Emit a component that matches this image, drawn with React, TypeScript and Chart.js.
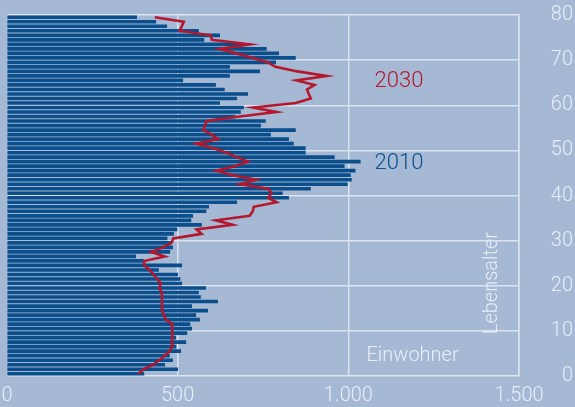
import React, { useEffect, useRef } from "react";
import { Chart, registerables } from "chart.js";

Chart.register(...registerables);

const ages = [
  0, 1, 2, 3, 4, 5, 6, 7, 8, 9, 10, 11, 12, 13, 14, 15, 16, 17, 18, 19,
  20, 21, 22, 23, 24, 25, 26, 27, 28, 29, 30, 31, 32, 33, 34, 35, 36, 37, 38, 39,
  40, 41, 42, 43, 44, 45, 46, 47, 48, 49, 50, 51, 52, 53, 54, 55, 56, 57, 58, 59,
  60, 61, 62, 63, 64, 65, 66, 67, 68, 69, 70, 71, 72, 73, 74, 75, 76, 77, 78, 79,
];

const pop2010 = [
  401, 500, 462, 485, 476, 509, 495, 524, 494, 527,
  541, 536, 564, 553, 588, 541, 617, 567, 561, 582,
  512, 507, 500, 444, 512, 400, 377, 477, 485, 480,
  469, 488, 498, 570, 539, 544, 583, 591, 673, 825,
  807, 889, 997, 1009, 1006, 1020, 988, 1035, 959, 874,
  874, 839, 825, 772, 845, 743, 757, 668, 684, 693,
  623, 673, 705, 637, 611, 515, 652, 740, 652, 787,
  845, 796, 760, 690, 577, 623, 561, 468, 436, 380,
];

const pop2030 = [
  385, 400, 428, 446, 462, 476, 484, 484, 484, 484,
  484, 484, 465, 460, 454, 454, 454, 454, 454, 446,
  451, 440, 429, 418, 402, 402, 462, 422, 457, 482,
  487, 570, 555, 661, 612, 711, 720, 723, 790, 765,
  775, 765, 682, 731, 661, 614, 667, 706, 673, 643,
  603, 555, 618, 600, 575, 580, 584, 682, 789, 721,
  846, 890, 884, 879, 901, 848, 936, 851, 786, 765,
  718, 669, 623, 711, 600, 597, 506, 512, 518, 433,
];

const xTicks = [0, 500, 1000, 1500];
const xTickLabels = ["0", "500", "1.000", "1.500"];
const yTicks = [0, 10, 20, 30, 40, 50, 60, 70, 80];

const BG = "#a5b9d4";
const BAR = "#0a4e8c";
const RED = "#b5172d";
const GRID = "#dce4ef";
const TEXT = "#e9eef6";
const FONT = "Roboto, 'Open Sans', sans-serif";

const labelPlugin = {
  id: "textLabels",
  afterDatasetsDraw(chart: any) {
    const { ctx, scales } = chart;
    const x = scales.x;
    const y = scales.y;
    ctx.save();
    ctx.textBaseline = "middle";
    ctx.textAlign = "left";
    ctx.font = `300 22px ${FONT}`;
    ctx.fillStyle = RED;
    ctx.fillText("2030", x.getPixelForValue(1077), y.getPixelForValue(65.2));
    ctx.fillStyle = BAR;
    ctx.fillText("2010", x.getPixelForValue(1077), y.getPixelForValue(47.0));
    ctx.font = `300 20px ${FONT}`;
    ctx.fillStyle = TEXT;
    ctx.fillText("Einwohner", x.getPixelForValue(1053), y.getPixelForValue(4.4));
    ctx.translate(x.getPixelForValue(1422), y.getPixelForValue(20.6));
    ctx.rotate(-Math.PI / 2);
    ctx.textAlign = "center";
    ctx.fillText("Lebensalter", 0, 0);
    ctx.restore();
  },
};

export default function App() {
  const ref = useRef<HTMLCanvasElement>(null);
  useEffect(() => {
    document.body.style.margin = "0";
    const canvas = ref.current!;
    const chart = new Chart(canvas, {
      type: "bar",
      data: {
        datasets: [
          {
            type: "line",
            label: "2030",
            data: ages.map((a, i) => ({ x: pop2030[i], y: a + 0.5 })),
            borderColor: RED,
            borderWidth: 2.6,
            pointRadius: 0,
            tension: 0,
            order: 0,
            indexAxis: "y",
          } as any,
          {
            type: "bar",
            label: "2010",
            data: ages.map((a, i) => ({ x: pop2010[i], y: a + 0.5 })),
            backgroundColor: BAR,
            borderWidth: 0,
            barThickness: 3,
            order: 1,
          } as any,
        ],
      },
      options: {
        indexAxis: "y",
        animation: false,
        responsive: false,
        maintainAspectRatio: false,
        layout: { padding: { left: 7, top: 15, right: 2, bottom: 0 } },
        plugins: { legend: { display: false }, tooltip: { enabled: false } },
        scales: {
          x: {
            type: "linear",
            position: "bottom",
            min: 0,
            max: 1500,
            offset: false,
            afterBuildTicks: (s: any) => {
              s.ticks = xTicks.map((v) => ({ value: v }));
            },
            afterFit: (s: any) => {
              s.height = 31;
              s.paddingLeft = 0;
              s.paddingRight = 0;
            },
            grid: {
              color: (c: any) => (c.tick && c.tick.value === 0 ? "rgba(0,0,0,0)" : GRID),
              lineWidth: 1.5,
              drawTicks: false,
              offset: false,
            },
            border: { display: false },
            ticks: {
              padding: 8,
              color: TEXT,
              font: { family: FONT, size: 20, weight: "300" },
              maxRotation: 0,
              autoSkip: false,
              callback: (v: any) => xTickLabels[xTicks.indexOf(Number(v))] ?? "",
            },
          },
          y: {
            type: "linear",
            position: "right",
            min: 0,
            max: 80,
            offset: false,
            afterBuildTicks: (s: any) => {
              s.ticks = yTicks.map((v) => ({ value: v }));
            },
            afterFit: (s: any) => {
              s.width = 54;
              s.paddingTop = 0;
              s.paddingBottom = 0;
            },
            grid: { color: GRID, lineWidth: 1.5, drawTicks: false, offset: false },
            border: { display: true, color: GRID, width: 1.5 },
            ticks: {
              padding: 4,
              color: TEXT,
              crossAlign: "far",
              font: { family: FONT, size: 20, weight: "300" },
              autoSkip: false,
            },
          },
        },
      } as any,
      plugins: [labelPlugin],
    });
    return () => chart.destroy();
  }, []);
  return (
    <div style={{ width: 575, height: 407, background: BG }}>
      <canvas ref={ref} width={575} height={407} style={{ display: "block", width: 575, height: 407 }} />
    </div>
  );
}
